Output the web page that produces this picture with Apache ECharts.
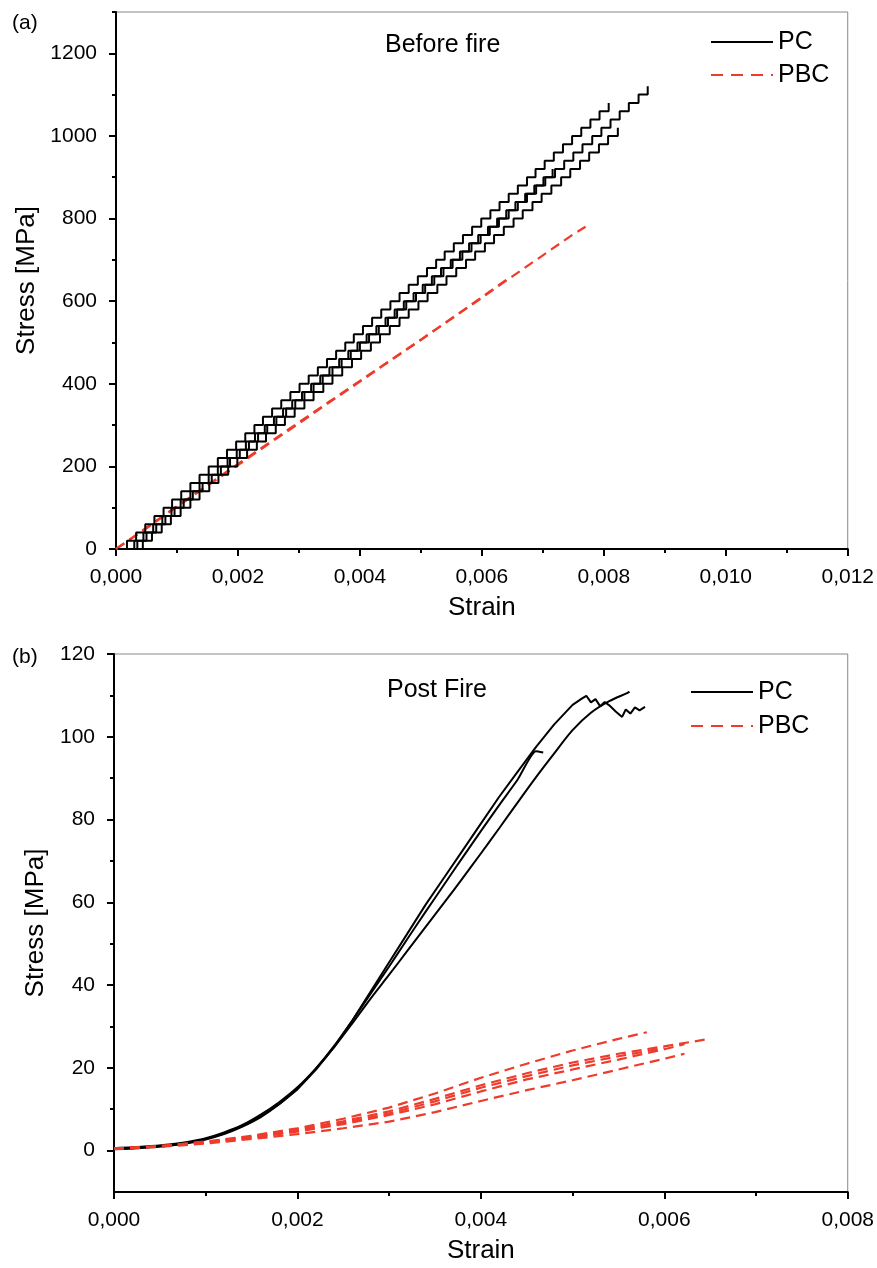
<!DOCTYPE html>
<html>
<head>
<meta charset="utf-8">
<script src="https://cdn.jsdelivr.net/npm/echarts@6.0.0/dist/echarts.min.js"></script>
<style>
  html, body { margin: 0; padding: 0; background: #fff; }
  #root { width: 877px; height: 1268px; }
</style>
</head>
<body>
<div id="root"></div>
<script>
// ---- data ----
// (a) before fire: PC curves are stair-stepped, one step per 20 MPa
const pcStressLevels = [0, 20, 40, 60, 80, 100, 120, 140, 160, 180, 200, 220, 240, 260, 280, 300, 320, 340, 360, 380,
  400, 420, 440, 460, 480, 500, 520, 540, 560, 580, 600, 620, 640, 660, 680, 700, 720, 740, 760, 780,
  800, 820, 840, 860, 880, 900, 920, 940, 960, 980, 1000, 1020, 1040, 1060, 1080, 1100, 1120];

const pcStrainA = [0.00003, 0.00018, 0.00033, 0.00048, 0.00063, 0.00078, 0.00092, 0.00107, 0.00122, 0.00137,
  0.00152, 0.00167, 0.00182, 0.00197, 0.00212, 0.00227, 0.00241, 0.00256, 0.00271, 0.00286,
  0.00301, 0.00316, 0.00331, 0.00346, 0.00361, 0.00376, 0.00390, 0.00405, 0.00420, 0.00435,
  0.00450, 0.00465, 0.00480, 0.00495, 0.00510, 0.00525, 0.00539, 0.00554, 0.00569, 0.00584,
  0.00599, 0.00614, 0.00629, 0.00644, 0.00659, 0.00674, 0.00688, 0.00703, 0.00718, 0.00733,
  0.00748, 0.00763, 0.00778, 0.00793, 0.00808];
const pcStrainB = [0.00020, 0.00035, 0.00050, 0.00066, 0.00081, 0.00096, 0.00111, 0.00126, 0.00142, 0.00157,
  0.00172, 0.00187, 0.00203, 0.00218, 0.00233, 0.00248, 0.00263, 0.00279, 0.00294, 0.00309,
  0.00324, 0.00339, 0.00355, 0.00370, 0.00385, 0.00400, 0.00415, 0.00431, 0.00446, 0.00461,
  0.00476, 0.00492, 0.00507, 0.00522, 0.00537, 0.00552, 0.00568, 0.00583, 0.00598, 0.00613,
  0.00628, 0.00644, 0.00659, 0.00674, 0.00689, 0.00704, 0.00720, 0.00735, 0.00750, 0.00765,
  0.00781, 0.00796, 0.00811, 0.00826, 0.00841, 0.00857, 0.00872];
const pcStrainC = [0.00028, 0.00044, 0.00059, 0.00075, 0.00090, 0.00106, 0.00122, 0.00137, 0.00153, 0.00168,
  0.00184, 0.00199, 0.00215, 0.00231, 0.00246, 0.00262, 0.00277, 0.00293, 0.00309, 0.00324,
  0.00340, 0.00355, 0.00371, 0.00387, 0.00402, 0.00418, 0.00433, 0.00449, 0.00465, 0.00480,
  0.00496, 0.00511, 0.00527, 0.00542, 0.00558, 0.00574, 0.00589, 0.00605, 0.00620, 0.00636,
  0.00652, 0.00667, 0.00683, 0.00698, 0.00714, 0.00730, 0.00745, 0.00761, 0.00776, 0.00792,
  0.00807, 0.00823];
const pcStrainD = [0.00015, 0.00030, 0.00045, 0.00061, 0.00076, 0.00091, 0.00106, 0.00122, 0.00137, 0.00152,
  0.00167, 0.00183, 0.00198, 0.00213, 0.00228, 0.00244, 0.00259, 0.00274, 0.00289, 0.00305,
  0.00320, 0.00335, 0.00350, 0.00366, 0.00381, 0.00396, 0.00411, 0.00427, 0.00442, 0.00457,
  0.00472, 0.00488, 0.00503, 0.00518, 0.00533, 0.00549, 0.00564, 0.00579, 0.00594, 0.00610,
  0.00625, 0.00640, 0.00655, 0.00671, 0.00686, 0.00701, 0.00716];

const pbcBefore1 = [[0, 0], [0.0005, 52], [0.001, 104], [0.0015, 155], [0.002, 206], [0.0025, 256], [0.003, 307],
  [0.0035, 357], [0.004, 407], [0.0045, 457], [0.005, 507], [0.0055, 557], [0.006, 608], [0.0065, 660],
  [0.007, 711], [0.0075, 762], [0.0077, 780]];
const pbcBefore2 = [[0, 0], [0.0005, 50], [0.001, 102], [0.0015, 153], [0.002, 203], [0.0025, 254], [0.003, 304],
  [0.0035, 355], [0.004, 405], [0.0045, 456], [0.005, 506], [0.0055, 558], [0.006, 610], [0.0064, 652]];

// (b) post fire
const pcPost1 = [[0, 0.5], [0.0002, 0.6], [0.0004, 0.9], [0.0006, 1.3], [0.0008, 1.9], [0.001, 2.8], [0.0012, 4.1],
  [0.0014, 5.9], [0.0016, 8.2], [0.0018, 11.2], [0.002, 14.8], [0.0022, 19.5], [0.0024, 25], [0.0026, 31.5],
  [0.0028, 38.5], [0.003, 45.5], [0.0032, 52.5], [0.0034, 59.5], [0.0036, 66], [0.0038, 72.5], [0.004, 79],
  [0.0042, 85.5], [0.0044, 91.5], [0.0046, 97.5], [0.0048, 103], [0.005, 107.7], [0.0051, 109.2],
  [0.00515, 109.9], [0.0052, 108.3], [0.00525, 109.1], [0.0053, 107.4], [0.00535, 108.4], [0.0054, 107.6],
  [0.00547, 106.1], [0.00554, 104.8], [0.00558, 106.6], [0.00563, 105.6], [0.00568, 107.1], [0.00573, 106.4],
  [0.00579, 107.2]];
const pcPost2 = [[0, 0.6], [0.0002, 0.8], [0.0004, 1.1], [0.0006, 1.5], [0.0008, 2.1], [0.001, 3.0], [0.0012, 4.4],
  [0.0014, 6.2], [0.0016, 8.7], [0.0018, 11.7], [0.002, 15.3], [0.0022, 19.8], [0.0024, 25], [0.0026, 30.8],
  [0.0028, 36.8], [0.003, 42.5], [0.0032, 48.3], [0.0034, 54.1], [0.0036, 59.9], [0.0038, 65.8], [0.004, 71.8],
  [0.0042, 77.9], [0.0044, 84.1], [0.0046, 90.2], [0.0048, 96], [0.005, 101.6], [0.0052, 105.8],
  [0.0054, 108.6], [0.0056, 110.6], [0.00562, 110.9]];
const pcPost3 = [[0, 0.3], [0.0002, 0.5], [0.0004, 0.8], [0.0006, 1.2], [0.0008, 1.8], [0.001, 2.7], [0.0012, 4.0],
  [0.0014, 5.8], [0.0016, 8.1], [0.0018, 11.2], [0.002, 15], [0.0022, 19.8], [0.0024, 25.3], [0.0026, 31.5],
  [0.0028, 38], [0.003, 44.5], [0.0032, 51.2], [0.0034, 57.8], [0.0036, 64.3], [0.0038, 70.8], [0.004, 77.2],
  [0.0042, 83.5], [0.0044, 89.6], [0.0046, 96.5], [0.00468, 96.2]];

const pbcPostStrain = [0, 0.0005, 0.001, 0.0015, 0.002, 0.0025, 0.003, 0.0035, 0.004, 0.0045, 0.005, 0.0055, 0.006];
const pbcPost1 = [0.5, 1.1, 2.2, 3.6, 5.4, 7.7, 10.4, 13.8, 17.6, 21.0, 24.2, 27.0];
const pbcPost2 = [0.5, 1.1, 2.1, 3.4, 5.1, 7.1, 9.5, 12.5, 15.8, 18.7, 21.3, 23.4, 25.2];
const pbcPost3 = [0.4, 1.0, 1.9, 3.1, 4.6, 6.4, 8.6, 11.2, 14.3, 17.2, 19.6, 22.0, 24.5];
const pbcPost4 = [0.4, 0.9, 1.7, 2.8, 4.0, 5.4, 7.0, 9.3, 12.0, 14.6, 17.0, 19.6, 22.2];
const pbcPost5 = [0.5, 1.0, 2.0, 3.3, 4.8, 6.7, 9.0, 11.9, 15.2, 18.0, 20.6, 22.8];
const pbcPostEnds = [[0.00581, 28.6], [0.00644, 26.8], [0.00622, 25.7], [0.00622, 23.4], [0.006, 24.8]];

// axis ticks
const yMajorA = [0, 200, 400, 600, 800, 1000, 1200];
const yMinorA = [100, 300, 500, 700, 900, 1100, 1300];
const yMajorB = [0, 20, 40, 60, 80, 100, 120];
const yMinorB = [10, 30, 50, 70, 90, 110];

// ---- chart ----
const FONT = 'Liberation Sans, Arial, Helvetica, sans-serif';
const RED = '#ee3b2b';

const fmtStrain = v => v.toFixed(3).replace('.', ',');
const stepPairs = strains => strains.map((x, i) => [x, pcStressLevels[i]]);
const pbcPairs = (vals, end) => vals.map((y, i) => [pbcPostStrain[i], y]).concat([end]);

const blackLine = { color: '#000', width: 2 };
const tickLine = { color: '#000', width: 2 };

const xAxisFor = (gridIndex, max) => ({
  type: 'value', gridIndex, min: 0, max, interval: 0.002,
  name: 'Strain', nameLocation: 'middle', nameGap: 46,
  nameTextStyle: { fontSize: 26, color: '#000', fontFamily: FONT },
  axisLine: { show: true, onZero: false, lineStyle: blackLine },
  axisTick: { show: true, length: 7, lineStyle: tickLine },
  minorTick: { show: true, splitNumber: 2, length: 4, lineStyle: tickLine },
  splitLine: { show: false },
  axisLabel: { margin: 18, fontSize: 21, color: '#000', fontFamily: FONT, formatter: fmtStrain }
});

const yMainFor = (gridIndex, min, max, ticks, gap) => ({
  type: 'value', gridIndex, min, max, position: 'left',
  name: 'Stress [MPa]', nameLocation: 'middle', nameGap: gap,
  nameTextStyle: { fontSize: 26, color: '#000', fontFamily: FONT },
  axisLine: { show: true, onZero: false, lineStyle: blackLine },
  axisTick: { show: true, length: 7, customValues: ticks, lineStyle: tickLine },
  axisLabel: { margin: 19, fontSize: 21, color: '#000', fontFamily: FONT, customValues: ticks, formatter: v => String(v) },
  splitLine: { show: false }
});

const yMinorFor = (gridIndex, min, max, ticks) => ({
  type: 'value', gridIndex, min, max, position: 'left',
  axisLine: { show: false },
  axisTick: { show: true, length: 4, customValues: ticks, lineStyle: tickLine },
  axisLabel: { show: false },
  splitLine: { show: false }
});

const lineSeries = (name, data, xi, yi, extra) => Object.assign({
  type: 'line', name, data, xAxisIndex: xi, yAxisIndex: yi,
  symbol: 'none', showSymbol: false, animation: false, silent: true,
  lineStyle: name === 'PC' ? { color: '#000', width: 2 } : { color: RED, width: 2.2, type: [10, 6] },
  itemStyle: { color: name === 'PC' ? '#000' : RED }
}, extra || {});

// the legend draws a symbol on line icons; make it invisible so only the line shows
const hiddenSymbol = { color: 'rgba(0,0,0,0)', borderWidth: 0, opacity: 0 };

const legendFor = (left, top, gap) => ({
  left, top, orient: 'vertical', padding: 0, itemGap: gap,
  itemWidth: 62, itemHeight: 14, selectedMode: false,
  textStyle: { fontSize: 25, color: '#000', fontFamily: FONT, lineHeight: 30 },
  data: [
    { name: 'PC', itemStyle: hiddenSymbol, lineStyle: { color: '#000', width: 2, type: 'solid' } },
    { name: 'PBC', itemStyle: hiddenSymbol, lineStyle: { color: RED, width: 2, type: [12, 8] } }
  ]
});

const textTitle = (text, left, top, size) => ({
  text, left, top, padding: 0,
  textStyle: { fontSize: size, fontWeight: 'normal', color: '#000', fontFamily: FONT }
});

const option = {
  backgroundColor: '#fff',
  animation: false,
  title: [
    textTitle('(a)', 12, 13, 21),
    textTitle('(b)', 12, 647, 21),
    textTitle('Before fire', 385, 33, 25),
    textTitle('Post Fire', 387, 678, 25)
  ],
  legend: [legendFor(710, 27, 3), legendFor(690, 677, 4)],
  grid: [
    { left: 116, top: 12, width: 733, height: 537, show: true, borderColor: '#888', borderWidth: 1 },
    { left: 114, top: 654, width: 734, height: 538, show: true, borderColor: '#888', borderWidth: 1 }
  ],
  xAxis: [xAxisFor(0, 0.012), xAxisFor(1, 0.008)],
  yAxis: [
    yMainFor(0, 0, 1300, yMajorA, 67),
    yMinorFor(0, 0, 1300, yMinorA),
    yMainFor(1, -10, 120, yMajorB, 65),
    yMinorFor(1, -10, 120, yMinorB)
  ],
  series: [
    lineSeries('PBC', pbcBefore1, 0, 0),
    lineSeries('PBC', pbcBefore2, 0, 0),
    lineSeries('PC', stepPairs(pcStrainA), 0, 0, { step: 'end' }),
    lineSeries('PC', stepPairs(pcStrainB), 0, 0, { step: 'end' }),
    lineSeries('PC', stepPairs(pcStrainC), 0, 0, { step: 'end' }),
    lineSeries('PC', stepPairs(pcStrainD), 0, 0, { step: 'end' }),

    lineSeries('PC', pcPost1, 1, 2),
    lineSeries('PC', pcPost2, 1, 2, { smooth: 0.3 }),
    lineSeries('PC', pcPost3, 1, 2, { smooth: 0.2 }),
    lineSeries('PBC', pbcPairs(pbcPost1, pbcPostEnds[0]), 1, 2),
    lineSeries('PBC', pbcPairs(pbcPost2, pbcPostEnds[1]), 1, 2),
    lineSeries('PBC', pbcPairs(pbcPost3, pbcPostEnds[2]), 1, 2),
    lineSeries('PBC', pbcPairs(pbcPost4, pbcPostEnds[3]), 1, 2),
    lineSeries('PBC', pbcPairs(pbcPost5, pbcPostEnds[4]), 1, 2)
  ]
};

const chart = echarts.init(document.getElementById('root'), null, { renderer: 'canvas' });
chart.setOption(option);
</script>
</body>
</html>
